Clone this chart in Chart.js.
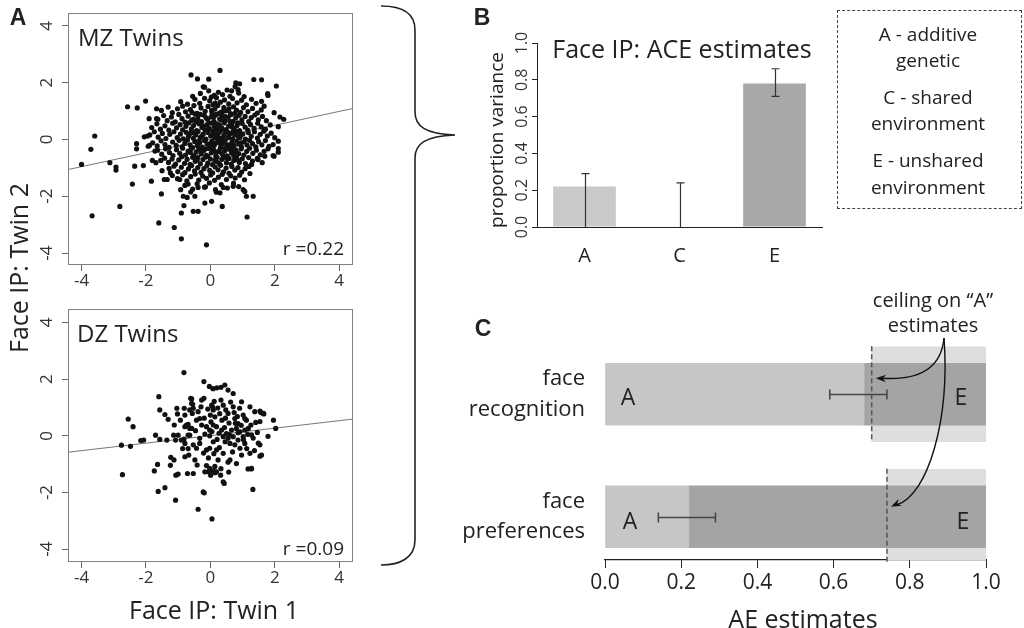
<!DOCTYPE html>
<html>
<head>
<meta charset="utf-8">
<script src="https://cdn.jsdelivr.net/npm/chart.js@4.4.0/dist/chart.umd.min.js"></script>
<style>
  body { margin: 0; background: #fff; }
  #wrap { position: relative; width: 1024px; height: 628px; overflow: hidden; font-family: 'Open Sans', sans-serif; color: #222; }
  canvas { position: absolute; }
  .t { position: absolute; white-space: nowrap; line-height: 1; transform: translate(-50%, -50%); }
  .rot { transform: translate(-50%, -50%) rotate(-90deg); }
  .lt { position: absolute; white-space: nowrap; line-height: 1; transform: translateY(-50%); }
  .rt { position: absolute; white-space: nowrap; line-height: 1; transform: translate(-100%, -50%); }
  .panel { font-family: 'Liberation Sans', Arial, sans-serif; font-weight: bold; font-size: 23px; }
  #legend { position: absolute; left: 837px; top: 10px; width: 183px; height: 197px; border: 1px dashed #444; }
</style>
</head>
<body>
<div id="wrap">
  <canvas id="mzChart" width="370" height="300" style="left:0;top:0"></canvas>
  <canvas id="dzChart" width="370" height="300" style="left:0;top:296px"></canvas>
  <canvas id="aceChart" width="400" height="280" style="left:440px;top:0"></canvas>
  <canvas id="aeChart" width="584" height="338" style="left:440px;top:290px"></canvas>

  <svg width="1024" height="628" style="position:absolute;left:0;top:0;pointer-events:none">
    <path d="M381 6 C400 6 415 12 415 30 L415 112 C415 126 425 134 455 135 C425 136 415 144 415 158 L415 540 C415 558 400 565 381 565"
          fill="none" stroke="#222" stroke-width="1.6"/>
  </svg>

  <div class="t panel" style="left:18px;top:17px">A</div>
  <div class="t panel" style="left:482px;top:17px">B</div>
  <div class="t panel" style="left:483px;top:328px">C</div>

  <div class="lt" style="left:78px;top:37px;font-size:24px">MZ Twins</div>
  <div class="rt" style="left:344px;top:248px;font-size:19px">r =0.22</div>
  <div class="lt" style="left:77px;top:333px;font-size:24px">DZ Twins</div>
  <div class="rt" style="left:344px;top:548px;font-size:19px">r =0.09</div>
  <div class="t rot" style="left:18px;top:268px;font-size:25px">Face IP: Twin 2</div>
  <div class="t" style="left:214px;top:609px;font-size:25px">Face IP: Twin 1</div>

  <div class="t rot" style="left:496px;top:140px;font-size:19px">proportion variance</div>
  <div class="t" style="left:682px;top:48px;font-size:25px">Face IP: ACE estimates</div>

  <div id="legend"></div>
  <div class="t" style="left:928px;top:34px;font-size:19px">A - additive</div>
  <div class="t" style="left:928px;top:60px;font-size:19px">genetic</div>
  <div class="t" style="left:928px;top:97px;font-size:19px">C - shared</div>
  <div class="t" style="left:928px;top:123px;font-size:19px">environment</div>
  <div class="t" style="left:928px;top:160px;font-size:19px">E - unshared</div>
  <div class="t" style="left:928px;top:187px;font-size:19px">environment</div>

  <div class="t" style="left:933px;top:300px;font-size:20px">ceiling on “A”</div>
  <div class="t" style="left:933px;top:325px;font-size:20px">estimates</div>
  <div class="t" style="left:628px;top:396px;font-size:23px">A</div>
  <div class="t" style="left:961px;top:396px;font-size:23px">E</div>
  <div class="t" style="left:630px;top:520px;font-size:23px">A</div>
  <div class="t" style="left:963px;top:520px;font-size:23px">E</div>
  <div class="t" style="left:803px;top:618px;font-size:25px">AE estimates</div>
</div>

<script>
// Panel A: twin scores (Twin 1, Twin 2)
const mzPoints = [
  [-4.0,-0.88],[-3.71,-0.35],[-3.59,0.12],[-3.67,-2.69],[-3.12,-0.82],[-2.93,-0.97],[-2.93,-1.08],[-2.81,-2.36],
  [-2.57,1.15],[-2.27,1.11],[-2.42,-1.57],[-2.35,-0.94],[-2.29,-0.15],[-2.29,-0.33],[-2.01,1.35],[-2.05,0.09],
  [-1.95,0.12],[-2.08,-0.92],[-1.93,-0.24],[-1.90,0.73],[-1.80,-0.74],[-1.72,-0.41],[-1.67,1.08],[-1.67,0.73],
  [-1.83,-1.47],[-1.60,-2.94],[-1.52,-1.92],[-1.12,-3.10],[-0.90,-3.50],[-0.12,-3.71],[-0.90,-2.59],[-0.82,-2.33],
  [1.14,-2.73],[1.33,-2.0],[1.07,-1.83],[1.12,-2.0],[0.37,-2.36],[0.04,-2.18],[-0.17,-2.24],[-0.38,-2.53],
  [-0.48,-2.0],[-0.84,-2.0],[0.30,-1.88],[0.71,-1.65],[-0.69,-1.57],[-0.72,-2.04],[-0.53,-2.53],[-0.61,-1.85],
  [-0.38,-1.69],[-0.15,-1.67],[0.19,-1.86],[0.40,-1.69],[1.02,-1.77],[-1.50,-1.10],[-1.24,-1.18],[-1.43,-1.41],
  [-1.34,-1.41],[-0.95,-1.41],[-0.92,-1.77],[-1.69,-0.82],[-1.54,-0.74],[1.47,-0.69],[1.61,-0.82],[1.98,-0.59],
  [-0.60,2.27],[-0.40,2.13],[-0.05,2.12],[0.30,2.43],[-0.22,1.85],[0.79,1.99],[1.35,2.11],[1.59,2.10],
  [0.77,1.86],[0.66,1.71],[2.05,1.88],[1.78,1.61],[1.59,1.34],[1.67,1.17],[1.98,0.94],[2.16,0.79],
  [2.28,0.71],[2.11,0.45],[2.0,0.06],[2.11,-0.06],[1.95,-0.18],[2.11,-0.32],[2.11,-0.45],[1.95,-0.57],
  [1.69,-0.59],[1.48,-0.71],[1.28,-0.88],[1.23,-1.2],[0.91,1.96],[0.86,1.75],[-0.18,1.84],[1.79,1.55],
  [-0.31,1.62],[-0.05,1.71],[0.12,1.55],[0.25,1.66],[0.38,1.58],[0.52,1.74],[0.61,1.52],[0.88,1.63],[1.05,1.51],[-0.55,1.52],
  [-0.92,1.33],[-0.71,1.24],[-0.48,1.41],[-0.33,1.27],[-0.18,1.45],[-0.02,1.36],[0.08,1.22],[0.19,1.47],[0.31,1.31],
  [0.44,1.39],[0.57,1.25],[0.69,1.44],[0.83,1.29],[0.97,1.38],[1.12,1.22],[1.28,1.41],[1.42,1.27],[0.03,1.49],
  [-1.52,1.02],[-1.31,1.14],[-1.18,0.94],[-1.02,1.08],[-0.86,1.17],[-0.77,0.97],[-0.62,1.05],[-0.51,1.19],[-0.41,0.92],
  [-0.29,1.11],[-0.16,0.99],[-0.07,1.16],[0.05,0.93],[0.14,1.07],[0.23,1.19],[0.34,0.96],[0.42,1.12],[0.51,1.01],
  [0.63,0.91],[0.72,1.15],[0.81,1.03],[0.94,0.95],[1.03,1.12],[1.17,0.98],[1.31,1.09],[1.46,0.93],[1.58,1.04],[0.27,0.92],
  [-1.63,0.71],[-1.45,0.84],[-1.34,0.66],[-1.21,0.79],[-1.09,0.62],[-0.98,0.88],[-0.88,0.73],[-0.79,0.61],[-0.69,0.82],
  [-0.58,0.67],[-0.47,0.89],[-0.39,0.74],[-0.27,0.63],[-0.19,0.85],[-0.09,0.71],[0.02,0.79],[0.11,0.64],[0.18,0.88],
  [0.29,0.72],[0.37,0.83],[0.46,0.66],[0.55,0.78],[0.64,0.87],[0.71,0.64],[0.79,0.76],[0.89,0.85],[0.98,0.69],
  [1.08,0.81],[1.19,0.63],[1.27,0.77],[1.38,0.86],[1.49,0.69],[1.62,0.81],[1.74,0.66],
  [-1.82,0.42],[-1.66,0.55],[-1.55,0.36],[-1.41,0.48],[-1.29,0.33],[-1.17,0.57],[-1.05,0.41],[-0.94,0.52],[-0.86,0.34],
  [-0.76,0.46],[-0.67,0.58],[-0.59,0.37],[-0.52,0.49],[-0.43,0.31],[-0.35,0.55],[-0.26,0.42],[-0.17,0.34],[-0.11,0.51],
  [-0.03,0.39],[0.06,0.57],[0.13,0.45],[0.21,0.32],[0.28,0.51],[0.35,0.41],[0.43,0.58],[0.49,0.35],[0.57,0.47],
  [0.66,0.55],[0.74,0.38],[0.83,0.49],[0.91,0.31],[0.99,0.56],[1.08,0.43],[1.16,0.33],[1.25,0.52],[1.36,0.39],
  [1.47,0.57],[1.58,0.44],[1.71,0.36],[1.86,0.51],
  [-1.88,0.16],[-1.74,0.27],[-1.62,0.08],[-1.49,0.21],[-1.38,0.03],[-1.26,0.18],[-1.13,0.27],[-1.03,0.06],[-0.93,0.19],
  [-0.84,0.02],[-0.75,0.25],[-0.68,0.11],[-0.61,0.22],[-0.53,0.04],[-0.45,0.16],[-0.38,0.28],[-0.31,0.07],[-0.22,0.19],
  [-0.14,0.01],[-0.07,0.24],[0.01,0.12],[0.08,0.29],[0.15,0.05],[0.22,0.17],[0.29,0.26],[0.36,0.03],[0.42,0.14],
  [0.48,0.27],[0.56,0.09],[0.62,0.21],[0.69,0.02],[0.76,0.16],[0.84,0.28],[0.92,0.07],[1.01,0.19],[1.09,0.01],
  [1.18,0.24],[1.27,0.11],[1.37,0.27],[1.46,0.05],[1.55,0.18],[1.66,0.29],[1.77,0.12],[1.89,0.22],
  [-1.79,-0.12],[-1.65,-0.23],[-1.53,-0.05],[-1.41,-0.18],[-1.28,-0.28],[-1.17,-0.09],[-1.06,-0.21],[-0.97,-0.03],
  [-0.88,-0.26],[-0.79,-0.14],[-0.71,-0.02],[-0.63,-0.19],[-0.55,-0.29],[-0.48,-0.08],[-0.4,-0.22],[-0.33,-0.11],
  [-0.25,-0.27],[-0.18,-0.04],[-0.1,-0.16],[-0.02,-0.28],[0.05,-0.07],[0.12,-0.21],[0.19,-0.12],[0.26,-0.02],
  [0.33,-0.25],[0.39,-0.14],[0.46,-0.04],[0.53,-0.19],[0.6,-0.29],[0.67,-0.1],[0.74,-0.22],[0.82,-0.06],
  [0.89,-0.17],[0.97,-0.27],[1.05,-0.09],[1.14,-0.2],[1.22,-0.03],[1.31,-0.15],[1.41,-0.26],[1.5,-0.08],
  [1.6,-0.19],[1.71,-0.04],[1.82,-0.24],[-1.89,-0.21],
  [-1.64,-0.38],[-1.51,-0.52],[-1.39,-0.33],[-1.27,-0.46],[-1.16,-0.57],[-1.05,-0.36],[-0.95,-0.49],[-0.86,-0.31],
  [-0.77,-0.55],[-0.69,-0.41],[-0.6,-0.33],[-0.52,-0.58],[-0.44,-0.45],[-0.36,-0.34],[-0.28,-0.51],[-0.2,-0.39],
  [-0.12,-0.56],[-0.05,-0.32],[0.03,-0.47],[0.1,-0.37],[0.17,-0.59],[0.24,-0.43],[0.31,-0.31],[0.38,-0.53],
  [0.45,-0.4],[0.52,-0.58],[0.59,-0.35],[0.66,-0.48],[0.73,-0.57],[0.8,-0.38],[0.88,-0.5],[0.96,-0.33],
  [1.04,-0.55],[1.13,-0.42],[1.22,-0.31],[1.32,-0.49],[1.43,-0.38],[1.55,-0.54],[1.67,-0.42],[1.79,-0.33],
  [-1.42,-0.66],[-1.3,-0.81],[-1.19,-0.69],[-1.08,-0.87],[-0.98,-0.72],[-0.89,-0.61],[-0.8,-0.84],[-0.72,-0.7],
  [-0.63,-0.88],[-0.55,-0.63],[-0.47,-0.77],[-0.39,-0.64],[-0.31,-0.86],[-0.23,-0.71],[-0.15,-0.62],[-0.08,-0.83],
  [0.0,-0.69],[0.07,-0.89],[0.14,-0.74],[0.21,-0.63],[0.28,-0.85],[0.36,-0.7],[0.43,-0.61],[0.5,-0.82],
  [0.58,-0.67],[0.65,-0.87],[0.73,-0.74],[0.81,-0.62],[0.9,-0.81],[0.99,-0.68],[1.09,-0.85],[1.19,-0.64],
  [1.31,-0.76],[1.46,-0.67],
  [-1.28,-1.02],[-1.13,-0.94],[-1.01,-1.13],[-0.9,-0.98],[-0.79,-1.17],[-0.68,-1.04],[-0.58,-0.92],[-0.49,-1.11],
  [-0.39,-0.99],[-0.29,-1.16],[-0.2,-1.03],[-0.11,-0.93],[-0.02,-1.09],[0.07,-1.18],[0.15,-0.97],[0.24,-1.07],
  [0.32,-0.91],[0.41,-1.14],[0.49,-1.01],[0.58,-1.19],[0.67,-0.95],[0.76,-1.08],[0.86,-0.99],[0.97,-1.15],
  [1.08,-1.03],[1.2,-0.95],
  [-1.18,-1.27],[-1.02,-1.38],[-0.86,-1.24],[-0.73,-1.46],[-0.61,-1.31],[-0.47,-1.22],[-0.36,-1.43],[-0.24,-1.29],
  [-0.12,-1.37],[0.01,-1.25],[0.13,-1.44],[0.25,-1.33],[0.37,-1.23],[0.5,-1.41],[0.63,-1.28],[0.77,-1.36],
  [0.91,-1.26],[1.06,-1.42],
  [-0.79,-1.62],[-0.55,-1.75],[-0.41,-1.56],[-0.18,-1.68],[-0.03,-1.53],[0.16,-1.77],[0.34,-1.59],[0.53,-1.71],
  [0.72,-1.55],[0.88,-1.66],
  [-0.57,0.95],[-0.44,0.62],[-0.31,0.88],[-0.22,0.47],[-0.13,0.76],[-0.04,0.58],[0.04,1.02],[0.12,0.81],[0.2,0.55],
  [0.27,0.39],[0.33,0.69],[0.4,0.99],[0.47,0.8],[0.54,0.26],[0.61,0.64],[0.68,0.43],[0.76,0.92],[0.85,0.58],
  [0.93,0.15],[-0.49,0.23],[-0.36,-0.05],[-0.26,0.12],[-0.16,-0.33],[-0.06,0.36],[0.02,-0.13],[0.09,0.2],
  [0.17,-0.45],[0.25,0.08],[0.32,-0.15],[0.41,0.33],[0.47,-0.31],[0.55,0.06],[0.63,-0.18],[0.71,0.27],
  [0.79,-0.43],[0.87,0.1],[0.95,-0.12],[-0.62,-0.46],[-0.41,-0.73],[-0.27,-0.4],[-0.08,-0.6],[0.06,-0.26],
  [0.2,-0.78],[0.35,-0.47],[0.51,-0.66],[0.68,-0.34],[0.84,-0.71],[-0.53,0.71],[0.15,1.28],[0.58,1.08]
];
const dzPoints = [
  [-0.82,2.23],[-1.60,1.38],[-1.57,0.91],[-1.41,0.75],[-2.55,0.59],[-2.40,0.32],[-2.76,-0.33],[-2.48,-0.37],
  [-2.73,-1.37],[-2.16,-0.17],[-2.07,-0.15],[-1.70,0.02],[-1.57,-0.13],[-1.35,-0.15],[-1.08,-0.15],[-1.74,-1.24],
  [-1.64,-1.01],[-1.62,-1.96],[-1.41,-1.83],[-1.08,-2.27],[-1.23,-0.76],[-1.13,-0.85],[-1.24,-1.04],[-1.07,-1.39],
  [-1.0,-1.35],[-0.38,-2.59],[0.05,-2.93],[-0.22,-1.98],[-0.19,-2.01],[1.32,-1.89],[1.17,-1.17],[1.27,-1.17],
  [1.96,0.55],[2.03,0.26],[1.79,-0.02],[1.54,0.87],[1.65,0.79],[1.54,-0.72],[1.59,-0.68],[-0.20,1.91],
  [-0.03,1.74],[0.08,1.66],[0.20,1.69],[0.33,1.71],[0.45,1.79],[0.55,1.61],[0.71,1.49],[-1.31,0.58],
  [-1.12,0.38],[-1.04,0.97],[-1.02,0.77],[-1.14,0.02],[-1.0,0.02],[-0.81,0.97],[-0.79,0.73],[-0.74,0.38],
  [-0.79,0.32],[-0.69,0.40],[-0.90,-0.15],[-0.82,-0.12],[-0.79,-0.27],[-0.69,0.02],[-0.64,0.26],[-0.61,1.32],
  [-0.58,1.14],[-0.53,0.97],[-0.56,0.79],[-0.69,-0.45],[-0.67,-0.68],[-0.79,-0.74],[-0.71,-1.33],[-0.53,-1.33],
  [-0.58,1.30],[-0.55,1.11],[-0.64,0.91],[-0.27,1.26],[-0.20,1.32],[-0.38,0.85],[-0.33,0.61],[-0.43,0.55],
  [0.04,1.08],[0.09,0.91],[0.0,0.73],[0.14,0.67],[0.07,1.02],[0.33,1.26],[0.40,1.08],[0.48,0.91],
  [0.55,0.79],[0.71,1.02],[0.76,0.61],[0.86,0.43],[0.97,1.20],[1.02,0.73],[1.07,0.61],[1.23,1.02],
  [1.38,0.85],[1.57,0.82],[1.66,0.77],[1.54,0.50],[1.28,0.03],[1.33,-0.08],[1.49,-0.26],[1.54,-0.32],
  [1.23,-0.62],[1.28,-1.15],[0.81,-0.98],[0.61,-0.85],[0.55,-0.93],[0.40,-0.62],[0.24,-0.85],[0.19,-0.50],
  [0.09,-0.21],[-0.02,-0.44],[-0.12,-0.50],[-0.33,-0.27],[-0.43,-0.44],[-0.53,-0.32],[-0.48,-0.85],[-0.41,-1.03],
  [-0.17,-1.27],[-0.06,-1.27],[0.01,-1.39],[0.09,-1.24],[0.19,-1.27],[-0.02,-1.15],[0.32,-1.39],[0.40,-1.62],
  [0.43,-1.68],[-0.27,0.38],[-0.12,0.32],[-0.02,0.20],[0.09,0.38],[0.19,0.32],[0.35,0.20],[0.50,0.08],
  [0.66,0.20],[0.81,0.26],[0.92,0.14],[1.07,0.20],[1.18,0.26],[0.40,-0.03],[0.55,-0.09],[0.71,-0.03],
  [0.86,-0.15],[1.02,-0.03],[0.61,-0.27],[0.76,-0.32],[0.92,-0.44],[1.07,-0.27],[-0.02,0.0],[-0.17,0.06],
  [-0.58,0.26],[-0.64,0.02],[0.12,1.21],[0.23,0.98],[0.29,0.78],[0.36,0.55],[0.47,0.62],[0.58,0.45],
  [0.63,1.19],[0.74,0.82],[0.84,0.68],[0.91,0.97],[1.12,0.55],[1.26,0.38],[1.41,0.47],[0.02,0.49],
  [-0.08,0.94],[-0.19,0.62],[-0.29,1.02],[-0.46,0.18],[-0.33,-0.09],[-0.21,-0.61],[-0.06,-0.78],[0.11,-0.63],
  [0.28,-0.42],[0.46,-0.21],[0.69,-0.57],[0.97,-0.68],[1.13,-0.45],[1.37,-0.52],[0.27,0.09],[0.44,0.29],
  [0.59,0.04],[0.78,0.44],[0.96,0.37],[1.16,0.05],[1.46,0.12],[0.14,-1.08],[0.33,-1.16],[-0.12,-1.05],
  [0.57,-1.28],[-0.86,-0.45],[-0.93,0.55],[0.21,-0.13],[0.05,0.15],[0.86,0.11],[1.03,-0.14],[0.15,-1.30]
];
// fitted regression lines (end points at plot edges)
const mzFitX = [-4.42, 4.43];
const mzFitY = [-1.06, 1.09];
const dzFitX = [-4.42, 4.43];
const dzFitY = [-0.58, 0.59];
const scatterTicks = [-4, -2, 0, 2, 4];

// Panel B: ACE estimates
const aceLabels = ['A', 'C', 'E'];
const aceValues = [0.22, 0, 0.78];
const aceLow = [0, 0, 0.71];
const aceHigh = [0.29, 0.24, 0.86];
const aceTicks = [0, 0.2, 0.4, 0.6, 0.8, 1.0];

// Panel C: AE estimates
const aeRows = [['face', 'recognition'], ['face', 'preferences']];
const aeA = [0.68, 0.22];
const aeCeiling = [0.70, 0.74];
const aeErrLow = [0.59, 0.14];
const aeErrHigh = [0.74, 0.29];

Chart.defaults.font.family = "'Open Sans', sans-serif";
Chart.defaults.color = '#222';

// R style frame + vertical (rotated) y tick labels
const rFrame = {
    id: 'rFrame',
    afterDraw(chart, args, opts) {
        const ctx = chart.ctx;
        const a = chart.chartArea;
        const y = chart.scales.y;
        ctx.save();
        if (opts.box) {
            ctx.strokeStyle = '#808080';
            ctx.lineWidth = 1;
            ctx.strokeRect(a.left + 0.5, a.top + 0.5, a.width - 1, a.height - 1);
        }
        ctx.fillStyle = '#333';
        ctx.font = opts.fontSize + "px 'Open Sans', sans-serif";
        ctx.textAlign = 'center';
        ctx.textBaseline = 'middle';
        y.ticks.forEach(t => {
            ctx.save();
            ctx.translate(opts.labelX, y.getPixelForValue(t.value));
            ctx.rotate(-Math.PI / 2);
            ctx.fillText(opts.digits ? t.value.toFixed(opts.digits) : String(t.value), 0, 0);
            ctx.restore();
        });
        ctx.restore();
    }
};

function twinScatter(id, pts, fitX, fitY, yMin, yMax, xAxisH) {
    new Chart(document.getElementById(id), {
        type: 'scatter',
        data: {
            datasets: [
                {
                    data: pts.map(p => ({x: p[0], y: p[1]})),
                    pointRadius: 2.6,
                    pointBackgroundColor: '#111',
                    pointBorderWidth: 0
                },
                {
                    type: 'line',
                    data: fitX.map((x, i) => ({x: x, y: fitY[i]})),
                    borderColor: '#777',
                    borderWidth: 1,
                    pointRadius: 0
                }
            ]
        },
        options: {
            responsive: false,
            animation: false,
            events: [],
            layout: {padding: {top: 13, right: 17}},
            plugins: {
                legend: {display: false},
                tooltip: {enabled: false},
                rFrame: {box: true, labelX: 47, fontSize: 17}
            },
            scales: {
                x: {
                    type: 'linear', min: -4.42, max: 4.43,
                    afterBuildTicks: s => { s.ticks = scatterTicks.map(v => ({value: v})); },
                    afterFit: s => { s.height = xAxisH; },
                    ticks: {font: {size: 17}, color: '#333', padding: 0},
                    grid: {drawOnChartArea: false, tickLength: 6, color: '#666'},
                    border: {display: false}
                },
                y: {
                    type: 'linear', min: yMin, max: yMax,
                    afterBuildTicks: s => { s.ticks = scatterTicks.map(v => ({value: v})); },
                    afterFit: s => { s.width = 68; },
                    ticks: {display: false},
                    grid: {drawOnChartArea: false, tickLength: 6, color: '#666'},
                    border: {display: false}
                }
            }
        },
        plugins: [rFrame]
    });
}

twinScatter('mzChart', mzPoints, mzFitX, mzFitY, -4.42, 4.45, 35);
twinScatter('dzChart', dzPoints, dzFitX, dzFitY, -4.45, 4.47, 34);

// Panel B bar chart with error bars
const aceErrors = {
    id: 'aceErrors',
    afterDatasetsDraw(chart) {
        const {ctx, scales: {x, y}} = chart;
        ctx.save();
        ctx.strokeStyle = '#333';
        ctx.lineWidth = 1.2;
        aceLow.forEach((lo, i) => {
            const px = Math.round(x.getPixelForValue(i)) + 0.5;
            const y1 = y.getPixelForValue(lo);
            const y2 = y.getPixelForValue(aceHigh[i]);
            ctx.beginPath();
            ctx.moveTo(px, y1);
            ctx.lineTo(px, y2);
            ctx.moveTo(px - 4, y2);
            ctx.lineTo(px + 4, y2);
            if (lo > 0) {
                ctx.moveTo(px - 4, y1);
                ctx.lineTo(px + 4, y1);
            }
            ctx.stroke();
        });
        ctx.restore();
    }
};

new Chart(document.getElementById('aceChart'), {
    type: 'bar',
    data: {
        labels: aceLabels,
        datasets: [{
            data: aceValues,
            backgroundColor: ['#c9c9c9', '#b5b5b5', '#a8a8a8'],
            borderWidth: 0,
            barPercentage: 0.66,
            categoryPercentage: 1
        }]
    },
    options: {
        responsive: false,
        animation: false,
        events: [],
        layout: {padding: {top: 43, right: 18}},
        plugins: {
            legend: {display: false},
            tooltip: {enabled: false},
            rFrame: {box: false, labelX: 82, fontSize: 16, digits: 1}
        },
        scales: {
            x: {
                afterFit: s => { s.height = 53; },
                ticks: {font: {size: 20}, color: '#222', padding: 9},
                grid: {display: false},
                border: {display: true, color: '#222', width: 1}
            },
            y: {
                min: 0, max: 1,
                afterBuildTicks: s => { s.ticks = aceTicks.map(v => ({value: v})); },
                afterFit: s => { s.width = 97; },
                ticks: {display: false},
                grid: {drawOnChartArea: false, tickLength: 5, color: '#222'},
                border: {display: true, color: '#222', width: 1}
            }
        }
    },
    plugins: [rFrame, aceErrors]
});

// Panel C: horizontal AE bars, ceiling lines, error bars, arrows
function arrowHead(ctx, fx, fy, tx, ty) {
    const ang = Math.atan2(ty - fy, tx - fx);
    ctx.beginPath();
    ctx.moveTo(tx, ty);
    ctx.lineTo(tx - 11 * Math.cos(ang - 0.35), ty - 11 * Math.sin(ang - 0.35));
    ctx.lineTo(tx - 7 * Math.cos(ang), ty - 7 * Math.sin(ang));
    ctx.lineTo(tx - 11 * Math.cos(ang + 0.35), ty - 11 * Math.sin(ang + 0.35));
    ctx.closePath();
    ctx.fill();
}

const aeMarks = {
    id: 'aeMarks',
    afterDatasetsDraw(chart) {
        const {ctx, scales: {x, y}} = chart;
        ctx.save();
        // ceiling lines
        ctx.strokeStyle = '#555';
        ctx.lineWidth = 1.5;
        ctx.setLineDash([5, 3]);
        aeCeiling.forEach((c, i) => {
            const px = x.getPixelForValue(c);
            const py = y.getPixelForValue(i + 1);
            ctx.beginPath();
            ctx.moveTo(px, py - 48);
            ctx.lineTo(px, py + 48);
            ctx.stroke();
        });
        ctx.setLineDash([]);
        // confidence intervals of A
        ctx.strokeStyle = '#444';
        ctx.lineWidth = 1.5;
        aeErrLow.forEach((lo, i) => {
            const x1 = x.getPixelForValue(lo);
            const x2 = x.getPixelForValue(aeErrHigh[i]);
            const py = Math.round(y.getPixelForValue(i + 1)) + 0.5;
            ctx.beginPath();
            ctx.moveTo(x1, py); ctx.lineTo(x2, py);
            ctx.moveTo(x1, py - 5); ctx.lineTo(x1, py + 5);
            ctx.moveTo(x2, py - 5); ctx.lineTo(x2, py + 5);
            ctx.stroke();
        });
        // arrows from the "ceiling" note
        ctx.strokeStyle = '#111';
        ctx.fillStyle = '#111';
        ctx.lineWidth = 1.4;
        const sx = 504, sy = 48;
        const t1x = x.getPixelForValue(aeCeiling[0]) + 4, t1y = y.getPixelForValue(1) - 16;
        ctx.beginPath();
        ctx.moveTo(sx, sy);
        ctx.quadraticCurveTo(500, 92, t1x + 6, t1y);
        ctx.stroke();
        arrowHead(ctx, t1x + 30, t1y + 1, t1x, t1y);
        const t2x = x.getPixelForValue(aeCeiling[1]) + 4, t2y = y.getPixelForValue(2) - 10;
        ctx.beginPath();
        ctx.moveTo(sx, sy);
        ctx.bezierCurveTo(510, 130, 488, 205, t2x + 6, t2y - 2);
        ctx.stroke();
        arrowHead(ctx, t2x + 25, t2y - 12, t2x, t2y);
        ctx.restore();
    }
};

new Chart(document.getElementById('aeChart'), {
    type: 'bar',
    data: {
        datasets: [
            {
                data: aeA.map((a, i) => ({x: [0, a], y: i + 1})),
                backgroundColor: '#c6c6c6', borderWidth: 0, barThickness: 62, grouped: false
            },
            {
                data: aeA.map((a, i) => ({x: [a, 1], y: i + 1})),
                backgroundColor: '#a4a4a4', borderWidth: 0, barThickness: 62, grouped: false
            },
            {
                data: aeCeiling.map((c, i) => ({x: [c, 1], y: i + 1})),
                backgroundColor: '#dedede', borderWidth: 0, barThickness: 95, grouped: false
            }
        ]
    },
    options: {
        indexAxis: 'y',
        responsive: false,
        animation: false,
        events: [],
        layout: {padding: {top: 43, right: 38}},
        plugins: {legend: {display: false}, tooltip: {enabled: false}},
        scales: {
            x: {
                type: 'linear', min: 0, max: 1,
                afterBuildTicks: s => { s.ticks = aceTicks.map(v => ({value: v})); },
                afterFit: s => { s.height = 68; },
                ticks: {font: {size: 21}, color: '#222', padding: 2, callback: v => v.toFixed(1)},
                grid: {drawOnChartArea: false, tickLength: 8, color: '#222'},
                border: {display: true, color: '#222', width: 1.2}
            },
            y: {
                type: 'linear', reverse: true, min: 0.5, max: 2.353, offset: false,
                afterBuildTicks: s => { s.ticks = [{value: 1}, {value: 2}]; },
                afterFit: s => { s.width = 165; },
                ticks: {font: {size: 22, lineHeight: 1.4}, color: '#222', padding: 12,
                        callback: (v, i) => aeRows[i]},
                grid: {display: false},
                border: {display: false}
            }
        }
    },
    plugins: [aeMarks]
});
</script>
</body>
</html>
